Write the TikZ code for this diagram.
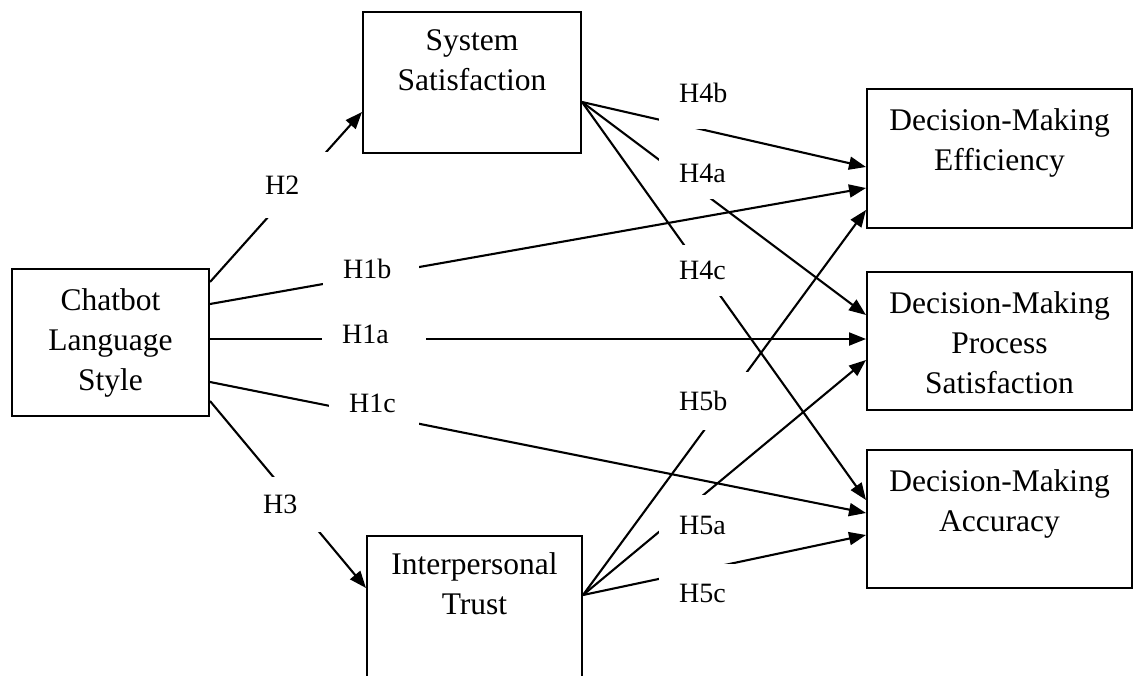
\documentclass[tikz,border=0pt]{standalone}
\usepackage{fontspec}
\setmainfont{Liberation Serif}
\usetikzlibrary{arrows.meta}
% taller strut for the first line, pushes a box's text a little lower
\newcommand\tallstrut{\rule{0pt}{36pt}}
\begin{document}
\begin{tikzpicture}[x=1pt,y=-1pt,
  box/.style={draw, line width=2pt, align=center, inner sep=0pt,
    font=\fontsize{31.5}{40}\selectfont},
  link/.style={line width=2.1pt},
  arr/.style={link, -{Triangle[length=17pt,width=13pt]}},
  hyp/.style={fill=white, anchor=north west, inner xsep=20pt, inner ysep=0pt,
    align=left, font=\fontsize{28}{34}\selectfont}]
\useasboundingbox (0,0) rectangle (1134,675);

% constructs
\node[box, minimum width=197pt, minimum height=147pt] (chat) at (110.5,342.5)
  {\strut Chatbot\\\strut Language\\\strut Style};
\node[box, minimum width=218pt, minimum height=141pt] (sys) at (472,82.5)
  {\strut System\\\strut Satisfaction\\\strut};
\node[box, minimum width=215pt, minimum height=141pt] (trust) at (474.5,606.5)
  {\strut Interpersonal\\\strut Trust\\\strut};
\node[box, minimum width=265pt, minimum height=139pt] (eff) at (999.5,158.5)
  {\tallstrut Decision-Making\\\strut Efficiency\\\strut};
\node[box, minimum width=265pt, minimum height=138pt] (proc) at (999.5,341)
  {\tallstrut Decision-Making\\\strut Process\\\strut Satisfaction};
\node[box, minimum width=265pt, minimum height=138pt] (acc) at (999.5,519)
  {\tallstrut Decision-Making\\\strut Accuracy\\\strut};

% hypothesised paths
\draw[arr] ([yshift=60.5pt]chat.east)  -- ([yshift=-29.5pt]sys.west);
\draw[arr] ([yshift=38.5pt]chat.east)  -- ([yshift=-29.5pt]eff.west);
\draw[arr] ([yshift=3.5pt]chat.east)   -- ([yshift=2pt]proc.west);
\draw[arr] ([yshift=-39.5pt]chat.east) -- ([yshift=6pt]acc.west);
\draw[arr] ([yshift=-58.5pt]chat.east) -- ([yshift=18.5pt]trust.west);
\draw[arr] ([yshift=-19.5pt]sys.east)  -- ([yshift=-8.5pt]eff.west);
\draw[arr] ([yshift=-19.5pt]sys.east)  -- ([yshift=26pt]proc.west);
\draw[arr] ([yshift=-19.5pt]sys.east)  -- ([yshift=19pt]acc.west);
\draw[arr] ([yshift=11.5pt]trust.east) -- ([yshift=-51.5pt]eff.west);
\draw[arr] ([yshift=11.5pt]trust.east) -- ([yshift=-19pt]proc.west);
\draw[arr] ([yshift=11.5pt]trust.east) -- ([yshift=-16pt]acc.west);

% path labels
\node[hyp, text width=56pt, minimum height=66pt] (h2)  at (245,152) {H2};
\node[hyp, text width=56pt, minimum height=66pt] (h1b) at (323,236) {H1b};
\node[hyp, text width=64pt, minimum height=66pt] (h1a) at (322,301) {H1a};
\node[hyp, text width=50pt, minimum height=66pt] (h1c) at (329,370) {H1c};
\node[hyp, text width=56pt, minimum height=55pt] (h3)  at (243,477) {H3};
\node[hyp, text width=56pt, minimum height=72pt] (h4b) at (659,57)  {H4b};
\node[hyp, text width=56pt, minimum height=52pt] (h4a) at (659,147) {H4a};
\node[hyp, text width=56pt, minimum height=51pt] (h4c) at (659,245) {H4c};
\node[hyp, text width=56pt, minimum height=58pt] (h5b) at (659,372) {H5b};
\node[hyp, text width=56pt, minimum height=60pt] (h5a) at (659,495) {H5a};
\node[hyp, text width=56pt, minimum height=58pt] (h5c) at (659,564) {H5c};
\end{tikzpicture}
\end{document}
